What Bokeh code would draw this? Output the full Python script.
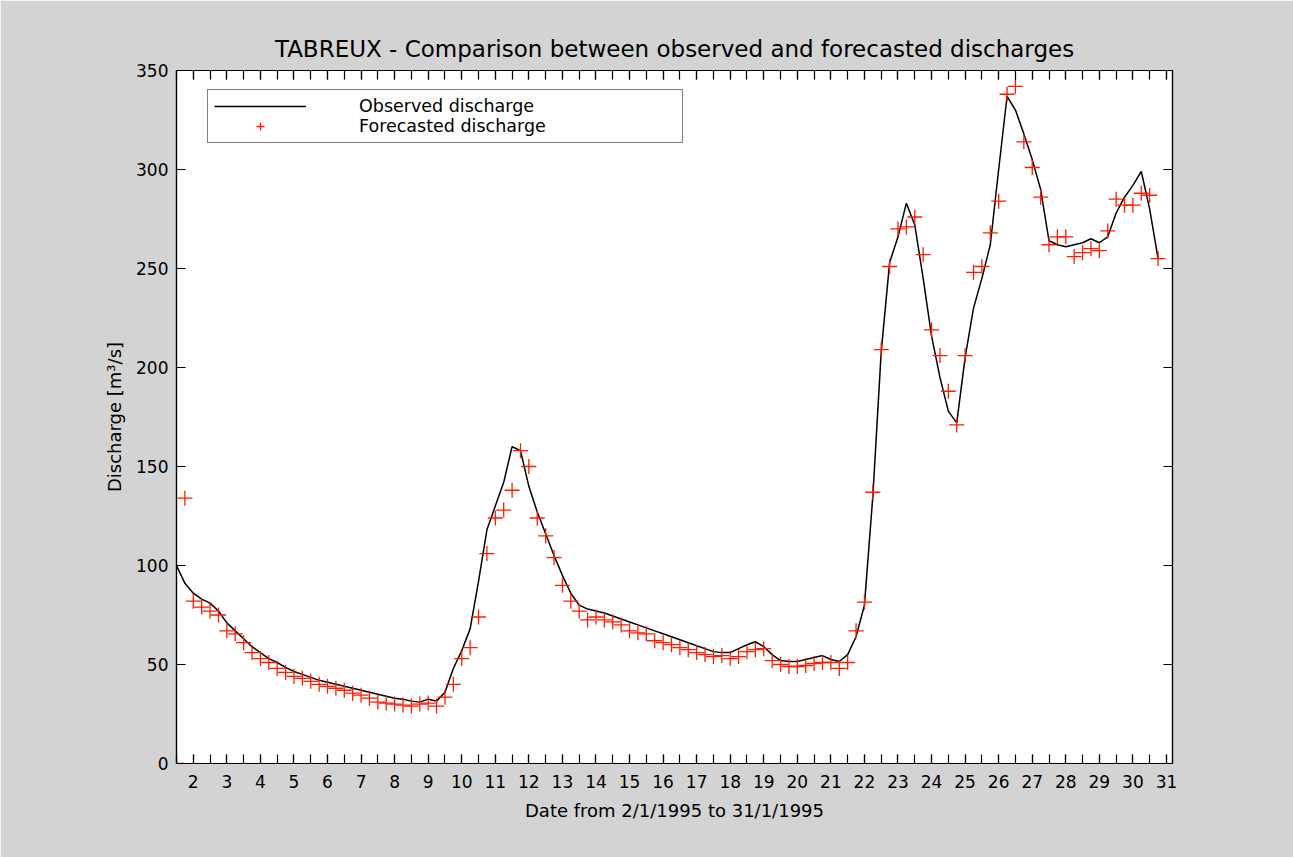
import numpy as np
from bokeh.plotting import figure
from bokeh.models import (Range1d, FixedTicker, LinearAxis, Legend, LegendItem,
                          ColumnDataSource)
from bokeh.embed import file_html
from bokeh.resources import INLINE

# ---------------- data ----------------
start_day = 1.5      # first sample (day of January 1995)
step_day = 0.25      # 6-hour time step

observed = [100, 91, 86, 83, 81, 77, 71, 67, 63, 59,
            56, 53, 51, 48.5, 46.5, 45, 43.5, 42, 41, 40,
            39, 38, 37, 36, 35, 34, 33, 32.5, 31.5, 31,
            32.5, 31.5, 36, 48, 57, 68, 92, 118, 130, 142,
            160, 158, 140, 127, 116, 105, 95, 86, 80, 78,
            77, 76, 74.5, 73, 71.5, 70, 68.5, 67, 65.5, 64,
            62.5, 61, 59.5, 58, 56.5, 56, 56, 58, 60, 61.5,
            59, 55, 52, 51.5, 51.5, 52.5, 53.5, 54.5, 52.5, 51.5,
            55, 64, 80, 135, 208, 253, 266, 283, 272, 245,
            216, 195, 178, 172, 205, 230, 245, 262, 300, 337,
            330, 318, 305, 290, 264, 262, 261, 262, 263, 265,
            263, 266, 278, 286, 292, 299, 280, 255]

forecast = [0, 134, 82, 79, 77, 75, 67, 65.5, 61, 56,
            53, 51, 48, 46, 44, 43, 41.5, 40, 39, 38,
            37, 35.5, 34.5, 33, 31, 30.5, 30, 29.5, 29, 30,
            30.5, 29, 33.5, 40, 53, 58.5, 74, 106, 124, 128,
            138, 158, 150, 124, 115, 104, 90, 82, 77, 72.5,
            74, 72.5, 71.5, 70, 67, 66, 65.5, 62, 61, 60,
            58.5, 57.5, 56, 55, 54, 54.5, 53, 54, 56.5, 57.5,
            58, 52, 50, 49, 49, 49.5, 50.5, 51, 51, 48,
            51, 67, 81.5, 137, 209, 251, 270, 271, 276, 257,
            219, 206, 188, 171, 206, 248, 251, 268, 284, 338,
            342, 314, 301, 286, 262, 266, 266, 256, 258, 260,
            259, 269, 285, 282, 282, 288, 287, 255]

x_tick_days = list(range(2, 32))
y_ticks = [0, 50, 100, 150, 200, 250, 300, 350]

days = start_day + step_day * np.arange(len(observed))

# ---------------- figure ----------------
FONT = "DejaVu Sans"
BG = "#d3d3d3"

p = figure(width=1293, height=857, output_backend="svg", toolbar_location=None,
           x_range=Range1d(1.5, 31.18), y_range=Range1d(0, 350),
           min_border_left=176, min_border_right=121,
           min_border_top=70, min_border_bottom=94,
           background_fill_color="white", border_fill_color=BG,
           outline_line_color="black", outline_line_width=1.2)

p.title.text = "TABREUX - Comparison between observed and forecasted discharges"
p.title.align = "center"
p.title.text_font = FONT
p.title.text_font_size = "23px"
p.title.text_font_style = "normal"
p.title.text_color = "black"
p.title.standoff = 17

p.grid.visible = False

src_o = ColumnDataSource(dict(x=days, y=observed))
src_f = ColumnDataSource(dict(x=days, y=forecast))
r_obs = p.line("x", "y", source=src_o, line_color="black", line_width=1.5)
r_for = p.scatter("x", "y", source=src_f, marker="cross", size=15,
                  line_color="#ff1a00", line_width=1.3)

half_ticks = [d / 2 for d in range(3, 63)]

def style_axis(ax, show_labels, ticks, minor):
    ax.ticker = FixedTicker(ticks=ticks, minor_ticks=minor)
    ax.axis_line_color = "black"
    ax.axis_line_width = 1.2
    ax.major_tick_in = 9
    ax.major_tick_out = 0
    ax.minor_tick_in = 9
    ax.minor_tick_out = 0
    ax.major_tick_line_color = "black"
    ax.minor_tick_line_color = "black"
    ax.major_tick_line_width = 1.2
    ax.minor_tick_line_width = 1.2
    ax.major_label_text_font = FONT
    ax.major_label_text_font_size = "17px"
    ax.major_label_text_color = "black" if show_labels else None
    ax.axis_label_text_font = FONT
    ax.axis_label_text_font_size = "18px"
    ax.axis_label_text_font_style = "normal"
    ax.axis_label_text_color = "black"

xa = p.xaxis[0]
style_axis(xa, True, x_tick_days, half_ticks)
xa.axis_label = "Date from 2/1/1995 to 31/1/1995"
xa.major_label_standoff = 11
xa.axis_label_standoff = 9

ya = p.yaxis[0]
style_axis(ya, True, y_ticks, [])
ya.axis_label = "Discharge [m\u00b3/s]"
ya.major_label_standoff = 8
ya.axis_label_standoff = 8

top = LinearAxis()
style_axis(top, False, x_tick_days, half_ticks)
p.add_layout(top, "above")
right = LinearAxis()
style_axis(right, False, y_ticks, [])
p.add_layout(right, "right")

legend = Legend(items=[LegendItem(label="Observed discharge", renderers=[r_obs]),
                       LegendItem(label="Forecasted discharge", renderers=[r_for])],
                location=(31, 620), orientation="vertical",
                padding=6, spacing=0, margin=0,
                glyph_width=92, glyph_height=20, label_height=20,
                label_standoff=53, label_width=317,
                label_text_font=FONT, label_text_font_size="17.5px",
                label_text_color="black",
                border_line_color="black", border_line_width=1.2,
                background_fill_color="white", background_fill_alpha=1.0)
p.add_layout(legend, "center")

open("out.html", "w").write(file_html(p, INLINE))
